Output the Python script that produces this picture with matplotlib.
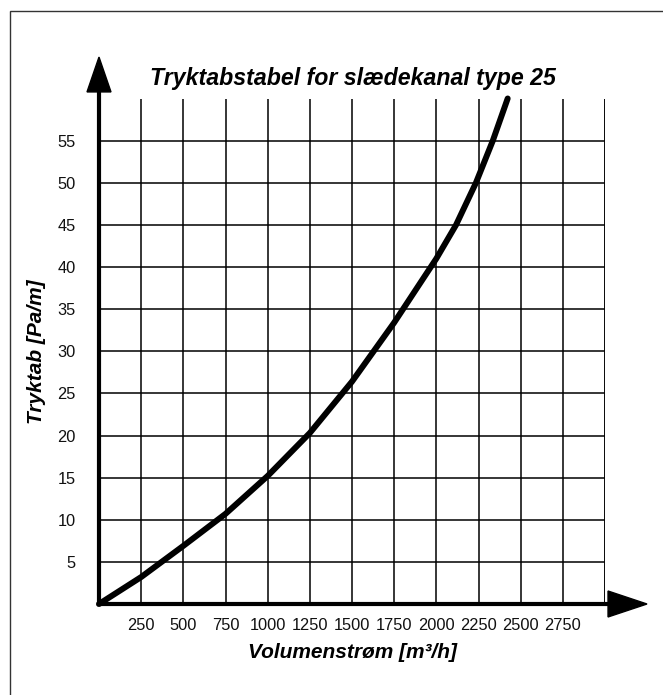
import matplotlib
matplotlib.use("Agg")
import matplotlib.pyplot as plt
from matplotlib.patches import Polygon, Rectangle
from matplotlib.lines import Line2D

plt.rcParams['font.family'] = ['Liberation Sans', 'DejaVu Sans']

# Data
flow = [0, 250, 500, 750, 1000, 1250, 1500, 1750, 2000, 2117, 2235, 2335, 2423]
loss = [0, 3.2, 6.9, 10.7, 15.2, 20.3, 26.4, 33.4, 41.0, 45, 50, 55, 60]

x_ticks = list(range(0, 3001, 250))
x_labels = [str(v) if 0 < v < 3000 else '' for v in x_ticks]
y_ticks = list(range(0, 61, 5))
y_labels = [str(v) if 0 < v < 60 else '' for v in y_ticks]

title = "Tryktabstabel for slædekanal type 25"
xlabel = "Volumenstrøm [m³/h]"
ylabel = "Tryktab [Pa/m]"

W, H = 663, 695
fig = plt.figure(figsize=(W / 100, H / 100), dpi=100)
ax = fig.add_axes([99 / W, 1 - 604 / H, 506 / W, 505.5 / H])

ax.set_xlim(0, 3000)
ax.set_ylim(0, 60)
ax.set_xticks(x_ticks)
ax.set_xticklabels(x_labels)
ax.set_yticks(y_ticks)
ax.set_yticklabels(y_labels)
ax.tick_params(axis='both', length=0, labelsize=11.8, colors='#111111')
ax.tick_params(axis='x', pad=10)
ax.tick_params(axis='y', pad=17)
ax.grid(True, color='black', linewidth=1.1)
ax.set_axisbelow(True)
for s in ax.spines.values():
    s.set_visible(False)
ax.axhline(60, color='black', linewidth=1.1, zorder=1)
ax.axvline(3000, color='black', linewidth=1.1, zorder=1)

ax.plot(flow, loss, color='black', linewidth=4.3, solid_capstyle='round',
        solid_joinstyle='round', zorder=5, clip_on=False)

# Axes with arrows
lw_axis = 3.0
ax.add_line(Line2D([0, 1.01], [0, 0], transform=ax.transAxes, color='black',
                   linewidth=lw_axis, clip_on=False, zorder=6))
ax.add_line(Line2D([0, 0], [0, 1.015], transform=ax.transAxes, color='black',
                   linewidth=lw_axis, clip_on=False, zorder=6))
ax.add_patch(Polygon([[1.006, 0.0257], [1.083, 0], [1.006, -0.0257]], closed=True,
                     transform=ax.transAxes, color='black', clip_on=False, zorder=7))
ax.add_patch(Polygon([[-0.0237, 1.013], [0, 1.082], [0.0237, 1.013]], closed=True,
                     transform=ax.transAxes, color='black', clip_on=False, zorder=7))

fig.text(352.5 / W, 1 - 85 / H, title, ha='center', va='baseline',
         fontsize=16.7, fontweight='bold', fontstyle='italic')
fig.text(352.5 / W, 1 - 658 / H, xlabel, ha='center', va='baseline',
         fontsize=15, fontweight='bold', fontstyle='italic')
fig.text(36.5 / W, 1 - 352 / H, ylabel, ha='center', va='center', rotation=90,
         fontsize=15, fontweight='bold', fontstyle='italic')

fig.patches.append(Rectangle((9.5 / W, -0.1), 1.2, 1.1 - 11 / H, transform=fig.transFigure,
                             fill=False, edgecolor='#333333', linewidth=1.0))

fig.savefig('out.png', dpi=100)
